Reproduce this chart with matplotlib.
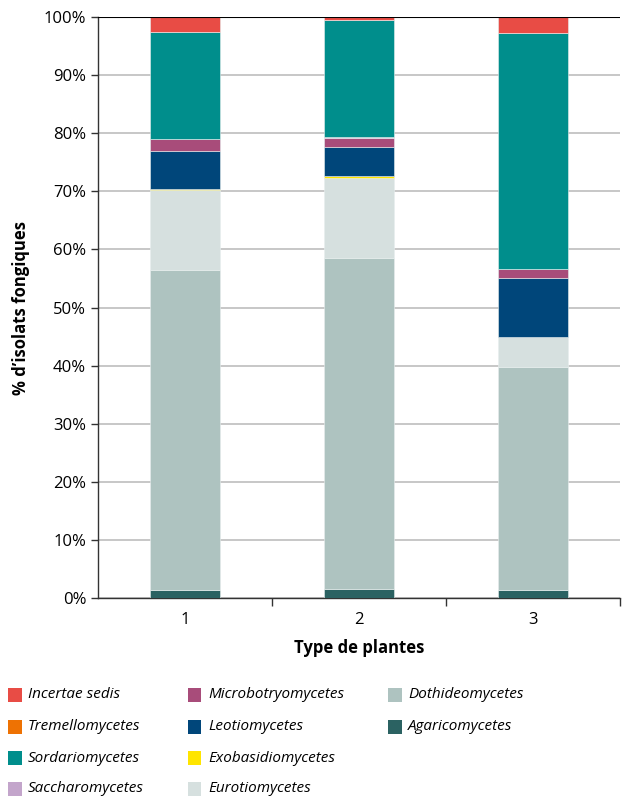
import matplotlib.pyplot as plt
from matplotlib.patches import Rectangle
from matplotlib.ticker import MultipleLocator, FuncFormatter

plt.rcParams['font.family'] = ['Open Sans', 'DejaVu Sans']

plantes = ['1', '2', '3']

# valeurs en % (du bas vers le haut de la pile)
agaricomycetes = [1.4, 1.6, 1.3]
dothideomycetes = [55.0, 57.0, 38.4]
eurotiomycetes = [13.8, 13.7, 5.2]
exobasidiomycetes = [0.2, 0.4, 0.0]
leotiomycetes = [6.6, 4.9, 10.1]
microbotryomycetes = [2.0, 1.5, 1.7]
saccharomycetes = [0.0, 0.3, 0.0]
sordariomycetes = [18.5, 20.0, 40.6]
tremellomycetes = [0.0, 0.0, 0.0]
incertae_sedis = [2.5, 0.6, 2.7]

series = [
    ('Agaricomycetes', agaricomycetes, '#2B6262'),
    ('Dothideomycetes', dothideomycetes, '#AEC3C0'),
    ('Eurotiomycetes', eurotiomycetes, '#D6E0DF'),
    ('Exobasidiomycetes', exobasidiomycetes, '#FFE500'),
    ('Leotiomycetes', leotiomycetes, '#00467A'),
    ('Microbotryomycetes', microbotryomycetes, '#A84C7A'),
    ('Saccharomycetes', saccharomycetes, '#C3A5CB'),
    ('Sordariomycetes', sordariomycetes, '#008E8C'),
    ('Tremellomycetes', tremellomycetes, '#EE7203'),
    ('Incertae sedis', incertae_sedis, '#E84C45'),
]

W, H = 627, 798
fig = plt.figure(figsize=(W / 100, H / 100), dpi=100)
ax = fig.add_axes([0.1563, 0.2506, 0.8327, 0.7281])

x = range(len(plantes))
bottom = [0.0] * len(plantes)
couleurs = {}
for nom, vals, col in series:
    ax.bar(x, vals, width=0.4, bottom=bottom, color=col,
           edgecolor='#e8eeee', linewidth=0.4, zorder=3)
    bottom = [b + v for b, v in zip(bottom, vals)]
    couleurs[nom] = col

ax.set_xlim(-0.5, 2.5)
ax.set_ylim(0, 100)
ax.yaxis.set_major_locator(MultipleLocator(10))
ax.yaxis.set_major_formatter(FuncFormatter(lambda v, p: f'{v:.0f}%'))
ax.grid(axis='y', color='#bdbdbd', linewidth=1.2, zorder=0)
ax.axhline(100, color='black', linewidth=1.5, zorder=4)

ax.set_xticks([0.5, 1.5, 2.5])
ax.set_xticklabels([])
ax.set_xticks(list(x), minor=True)
ax.set_xticklabels(plantes, minor=True)
ax.tick_params(axis='x', which='major', length=6, width=1, direction='out', color='#333333')
ax.tick_params(axis='x', which='minor', length=0, labelsize=12, pad=10)
ax.tick_params(axis='y', length=5, width=1, labelsize=12, color='#333333')

for s in ['top', 'right']:
    ax.spines[s].set_visible(False)
for s in ['left', 'bottom']:
    ax.spines[s].set_color('#333333')
    ax.spines[s].set_linewidth(1)

ax.set_xlabel('Type de plantes', fontsize=12, fontweight='bold', labelpad=8)
ax.set_ylabel('% d\u2019isolats fongiques', fontsize=12, fontweight='bold', labelpad=10)

# légende à la main : 3 colonnes de 4 lignes
colonnes = [
    ['Incertae sedis', 'Tremellomycetes', 'Sordariomycetes', 'Saccharomycetes'],
    ['Microbotryomycetes', 'Leotiomycetes', 'Exobasidiomycetes', 'Eurotiomycetes'],
    ['Dothideomycetes', 'Agaricomycetes'],
]
col_x = [8, 188, 388]
row_y = [695, 727, 758, 789]
carre = 13.5
for ci, noms in enumerate(colonnes):
    for ri, nom in enumerate(noms):
        x0, yc = col_x[ci], row_y[ri]
        fig.patches.append(Rectangle((x0 / W, 1 - (yc + carre / 2) / H), carre / W, carre / H,
                                     facecolor=couleurs[nom], edgecolor='none',
                                     transform=fig.transFigure, figure=fig))
        fig.text((x0 + 20) / W, 1 - yc / H, nom, ha='left', va='center',
                 fontsize=11, style='italic')

fig.savefig('out.png', dpi=100)
